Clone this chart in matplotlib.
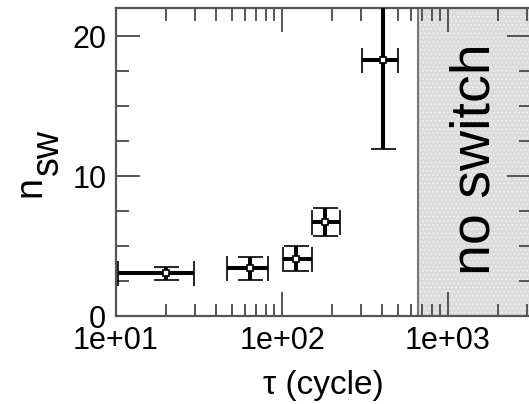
import matplotlib
matplotlib.use("Agg")
import matplotlib.pyplot as plt
from matplotlib.ticker import FixedLocator, LogLocator, MultipleLocator, FuncFormatter

plt.rcParams['font.family'] = ['Liberation Sans', 'DejaVu Sans']
plt.rcParams['hatch.linewidth'] = 0.6

# switching count versus tau, with asymmetric tau ranges
tau = [20, 64, 122, 181, 404]
tau_lo = [10.3, 46.4, 101, 151, 302]
tau_hi = [29.3, 82.6, 151, 223, 502]
nsw = [3.05, 3.4, 4.1, 6.7, 18.3]
nsw_err = [0.45, 0.85, 0.9, 1.0, 6.4]
no_switch_start = 660
x_ticks = [10, 100, 1000]
y_ticks = [0, 10, 20]

fig = plt.figure(figsize=(5.29, 4.04), dpi=100)
ax = fig.add_axes([116 / 529, 88 / 404, 415 / 529, 308 / 404])
ax.set_xscale('log')
ax.set_xlim(10, 10 ** 3.5)
ax.set_ylim(0, 22)

spine_col = '#555555'
for s in ax.spines.values():
    s.set_color(spine_col)
    s.set_linewidth(1.6)

# shaded region where no switching occurs
ax.axvspan(no_switch_start, 1e5, facecolor='#dcdcdc', edgecolor='#f2f2f2',
           hatch='....', linewidth=0, zorder=0)
ax.axvline(no_switch_start, color='#777777', lw=1.5, zorder=1)
ax.text(1470, 11.2, 'no switch', rotation=90, ha='center', va='center',
        fontsize=40, color='black', zorder=2)

xerr = [[t - lo for t, lo in zip(tau, tau_lo)], [hi - t for t, hi in zip(tau, tau_hi)]]
ax.errorbar(tau, nsw, xerr=xerr, yerr=nsw_err, fmt='s', color='black',
            ecolor='black', elinewidth=2.9, capsize=9, capthick=2.9,
            markersize=5, markerfacecolor='white', markeredgecolor='black',
            markeredgewidth=1.2, zorder=3)

ax.xaxis.set_major_locator(FixedLocator(x_ticks))
ax.xaxis.set_minor_locator(LogLocator(base=10, subs=range(2, 10), numticks=20))
ax.xaxis.set_major_formatter(FuncFormatter(lambda v, p: f"{v:.0e}"))
ax.yaxis.set_major_locator(FixedLocator(y_ticks))
ax.yaxis.set_minor_locator(MultipleLocator(2.5))

ax.tick_params(which='both', direction='in', top=True, right=True,
               color=spine_col, width=1.4, labelsize=22)
ax.tick_params(which='major', length=17, pad=7)
ax.tick_params(which='minor', length=9)

ax.set_xlabel('τ (cycle)', fontsize=24, labelpad=10)

# y-axis label with a full-size, lowered subscript
fig.text(40 / 529, 1 - 197 / 404, 'n', rotation=90, rotation_mode='anchor',
         ha='left', va='baseline', fontsize=27)
fig.text(58 / 529, 1 - 175 / 404, 'sw', rotation=90, rotation_mode='anchor',
         ha='left', va='baseline', fontsize=27)

fig.savefig('out.png', dpi=100)
